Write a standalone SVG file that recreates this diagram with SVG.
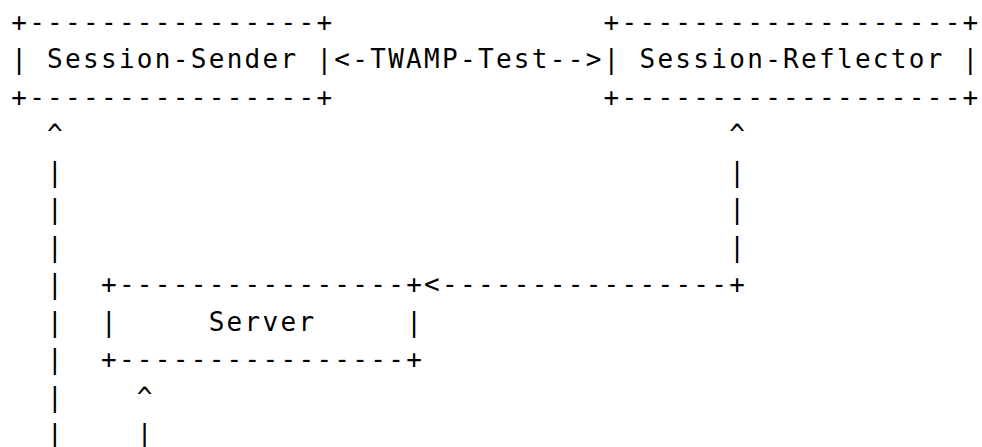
<svg xmlns="http://www.w3.org/2000/svg" width="982" height="447" viewBox="0 0 982 447">
<style>
text{font-family:"DejaVu Sans Mono","Liberation Mono",monospace;font-size:26px;letter-spacing:2.3px;fill:#000;white-space:pre}
</style>
<rect width="982" height="447" fill="#fff"/>
<g id="session-sender">
<text x="11.2" y="30.8" xml:space="preserve">+----------------+</text>
<text x="11.2" y="68.3" xml:space="preserve">| Session-Sender |</text>
<text x="11.2" y="105.8" xml:space="preserve">+----------------+</text>
</g>
<g id="session-reflector">
<text x="603.55" y="30.8" xml:space="preserve">+-------------------+</text>
<text x="603.55" y="68.3" xml:space="preserve">| Session-Reflector |</text>
<text x="603.55" y="105.8" xml:space="preserve">+-------------------+</text>
</g>
<g id="server">
<text x="100.95" y="293.3" xml:space="preserve">+----------------+</text>
<text x="100.95" y="330.8" xml:space="preserve">|     Server     |</text>
<text x="100.95" y="368.3" xml:space="preserve">+----------------+</text>
</g>
<g id="connectors">
<text x="334.3" y="68.3">&lt;-TWAMP-Test--&gt;</text>
<g id="left-line">
<text x="47.1" y="143.3">^</text>
<text x="47.1" y="180.8">|</text>
<text x="47.1" y="218.3">|</text>
<text x="47.1" y="255.8">|</text>
<text x="47.1" y="293.3">|</text>
<text x="47.1" y="330.8">|</text>
<text x="47.1" y="368.3">|</text>
<text x="47.1" y="405.8">|</text>
<text x="47.1" y="443.3">|</text>
</g>
<g id="right-line">
<text x="729.2" y="143.3">^</text>
<text x="729.2" y="180.8">|</text>
<text x="729.2" y="218.3">|</text>
<text x="729.2" y="255.8">|</text>
<text x="424.05" y="293.3">&lt;----------------+</text>
</g>
<g id="server-line">
<text x="136.85" y="405.8">^</text>
<text x="136.85" y="443.3">|</text>
</g>
</g>
</svg>
